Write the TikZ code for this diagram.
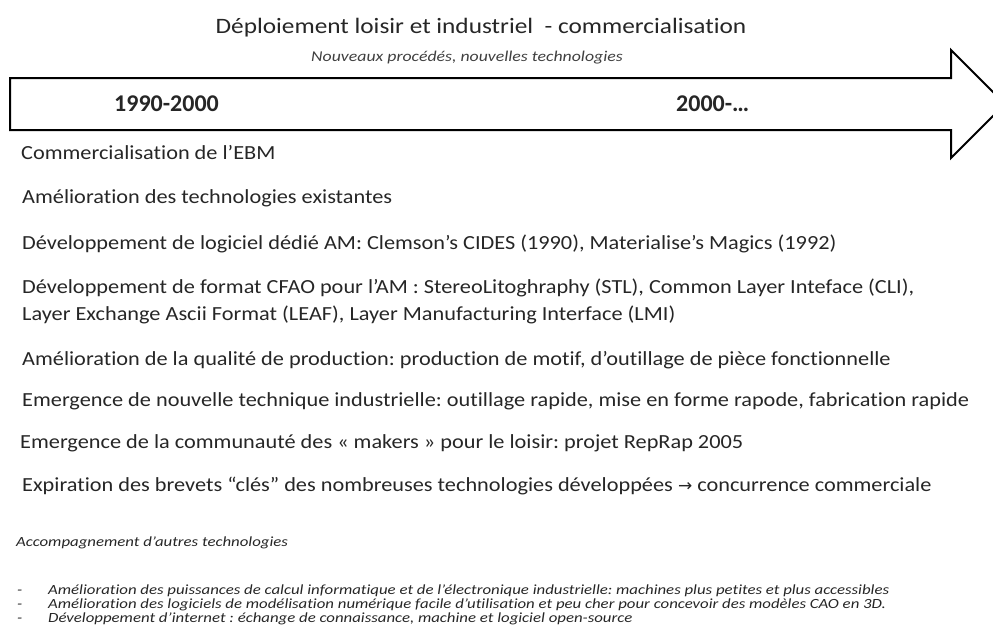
\documentclass[tikz,border=0pt]{standalone}
\usepackage{fontspec}
\usepackage{xcolor}
\setmainfont{Carlito}[Ligatures=NoCommon]
\newfontfamily\fontTitre{Carlito}[FakeStretch=1.15, Ligatures=NoCommon]
\newfontfamily\fontSous{Carlito}[FakeStretch=1.185, Ligatures=NoCommon]
\newfontfamily\fontLigne{Carlito}[FakeStretch=1.115, Ligatures=NoCommon]
\newfontfamily\fontNote{Carlito}[FakeStretch=1.2, Ligatures=NoCommon]
\newfontfamily\symbfont{DejaVu Sans}
\definecolor{TexteGris}{HTML}{262626}
\frenchspacing

\begin{document}
\begin{tikzpicture}[x=1pt, y=-1pt,
    every node/.style={text=TexteGris, inner sep=0pt},
    titre/.style={font=\fontTitre\fontsize{22}{26}\selectfont},
    soustitre/.style={font=\fontSous\fontsize{15}{18}\selectfont\itshape, text=black!75},
    annee/.style={anchor=west, font=\fontsize{24}{28}\selectfont\bfseries},
    ligne/.style={anchor=west, align=left, font=\fontLigne\fontsize{20}{27}\selectfont},
    note/.style={anchor=west, font=\fontNote\fontsize{14}{16}\selectfont\itshape},
    fleche/.style={draw=black, line width=2pt, fill=white, line join=miter},
]
\useasboundingbox (0,0) rectangle (993,630);
\clip (0,0) rectangle (993,630);

%% Titre
\node[titre]     (titre)  at (481,28) {Déploiement loisir et industriel \ - commercialisation};
\node[soustitre] (sstitre) at (467,58) {Nouveaux procédés, nouvelles technologies};

%% Grande flèche
\draw[fleche] (10,78) -- (951,78) -- (951,50) -- (1005,104)
    -- (951,158) -- (951,130) -- (10,130) -- cycle;
\node[annee] (periodeA) at (114,104) {1990-2000};
\node[annee] (periodeB) at (676,104) {2000-…};

%% Lignes de texte
\node[ligne] (commEBM)  at (21,153) {Commercialisation de l’EBM};
\node[ligne] (amelTech) at (22,198) {Amélioration des technologies existantes};
\node[ligne] (logiciel) at (22,244) {Développement de logiciel dédié AM: Clemson’s CIDES (1990), Materialise’s Magics (1992)};
\node[ligne] (format)   at (22,301) {Développement de format CFAO pour l’AM : StereoLitoghraphy (STL), Common Layer Inteface (CLI),\\
                                      Layer Exchange Ascii Format (LEAF), Layer Manufacturing Interface (LMI)};
\node[ligne] (qualite)  at (22,360) {Amélioration de la qualité de production: production de motif, d’outillage de pièce fonctionnelle};
\node[ligne] (emergInd) at (22,401) {Emergence de nouvelle technique industrielle: outillage rapide, mise en forme rapode, fabrication rapide};
\node[ligne] (makers)   at (20,443) {Emergence de la communauté des « makers » pour le loisir: projet RepRap 2005};
\node[ligne] (brevets)  at (22,486) {Expiration des brevets “clés” des nombreuses technologies développées {\symbfont\fontsize{17}{20}\selectfont →} concurrence commerciale};

%% Autres technologies
\node[note] (accomp)   at (16,543) {Accompagnement d’autres technologies};
\node[note] (puiss)    at (17,591) {\makebox[31pt][l]{-}Amélioration des puissances de calcul informatique et de l’électronique industrielle: machines plus petites et plus accessibles};
\node[note] (modeli)   at (17,605) {\makebox[31pt][l]{-}Amélioration des logiciels de modélisation numérique facile d’utilisation et peu cher pour concevoir des modèles CAO en 3D.};
\node[note] (internet) at (17,619) {\makebox[31pt][l]{-}Développement d’internet : échange de connaissance, machine et logiciel open-source};

\end{tikzpicture}
\end{document}
